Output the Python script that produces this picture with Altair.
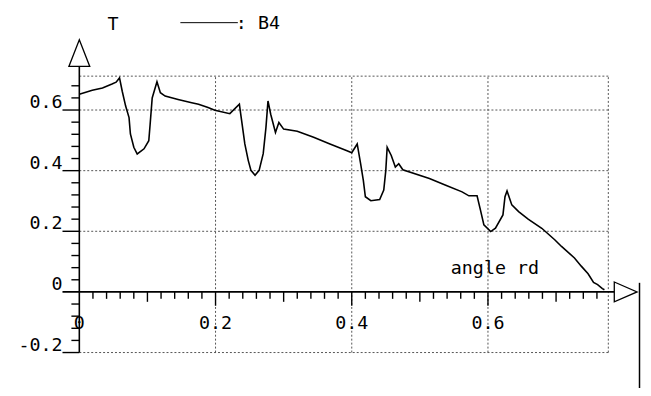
import altair as alt
import pandas as pd

# ---- data ----
angle = [0.000, 0.019, 0.034, 0.048, 0.054, 0.059, 0.063, 0.068, 0.073, 0.075,
         0.080, 0.085, 0.095, 0.102, 0.104, 0.107, 0.114, 0.119, 0.126, 0.145,
         0.165, 0.175, 0.189, 0.199, 0.221, 0.235, 0.238, 0.243, 0.248, 0.252,
         0.258, 0.264, 0.270, 0.274, 0.277, 0.281, 0.288, 0.293, 0.300, 0.320,
         0.344, 0.368, 0.393, 0.400, 0.408, 0.413, 0.417, 0.420, 0.428, 0.441,
         0.447, 0.450, 0.452, 0.458, 0.464, 0.469, 0.475, 0.514, 0.538, 0.562,
         0.572, 0.584, 0.589, 0.594, 0.604, 0.611, 0.622, 0.625, 0.628, 0.635,
         0.645, 0.659, 0.679, 0.698, 0.708, 0.727, 0.737, 0.747, 0.755, 0.761,
         0.768, 0.771]
t_b4 = [0.652, 0.665, 0.673, 0.686, 0.692, 0.706, 0.662, 0.613, 0.575, 0.521,
        0.477, 0.455, 0.472, 0.499, 0.554, 0.640, 0.693, 0.657, 0.646, 0.635,
        0.624, 0.619, 0.608, 0.599, 0.588, 0.619, 0.570, 0.488, 0.434, 0.401,
        0.385, 0.401, 0.456, 0.542, 0.630, 0.586, 0.526, 0.559, 0.537, 0.530,
        0.510, 0.488, 0.466, 0.459, 0.488, 0.423, 0.368, 0.314, 0.301, 0.305,
        0.336, 0.401, 0.477, 0.450, 0.412, 0.423, 0.403, 0.374, 0.352, 0.330,
        0.317, 0.317, 0.270, 0.221, 0.199, 0.210, 0.254, 0.314, 0.333, 0.287,
        0.265, 0.240, 0.210, 0.172, 0.150, 0.112, 0.085, 0.060, 0.031, 0.024,
        0.011, 0.007]

x_label_vals = [0.0, 0.2, 0.4, 0.6]
x_label_text = ["0", "0.2", "0.4", "0.6"]
y_label_vals = [-0.2, 0.0, 0.2, 0.4, 0.6]
y_label_text = ["-0.2", "0", "0.2", "0.4", "0.6"]
x_grid = [0.2, 0.4, 0.6]
y_grid = [0.2, 0.4, 0.6]
x_major = [0.2, 0.4, 0.6]
x_mid = [0.1, 0.3, 0.5, 0.7]
x_minor = [round(0.02 * i, 2) for i in range(1, 39) if i % 5 != 0]
y_major = [-0.2, 0.2, 0.4, 0.6]
y_minor = [round(0.04 * i, 2) for i in range(-4, 18) if i % 5 != 0]

# ---- geometry / style ----
W, H = 534, 279
PX_X, PX_Y = 687.5, 306.0
XMAX = W / PX_X
YMIN = -0.2
YMAX = YMIN + H / PX_Y
FONT = "DejaVu Sans Mono"
FS = 18.5

xs = alt.Scale(domain=[0, XMAX], nice=False, zero=False)
ys = alt.Scale(domain=[YMIN, YMAX], nice=False, zero=False)


def XF(f):
    return alt.X(f, type="quantitative", scale=xs, axis=None)


def YF(f):
    return alt.Y(f, type="quantitative", scale=ys, axis=None)


def XD(v):
    return alt.XDatum(v, type="quantitative", scale=xs, axis=None)


def YD(v):
    return alt.YDatum(v, type="quantitative", scale=ys, axis=None)


curve_df = pd.DataFrame({"angle": angle, "T": t_b4, "i": list(range(len(angle)))})

layers = []

# dotted grid + frame
grid_style = dict(color="#555555", strokeWidth=1, strokeDash=[2, 2])
layers.append(alt.Chart(pd.DataFrame({"v": y_grid + [YMAX, YMIN]})).mark_rule(**grid_style)
              .encode(y=YF("v"), x=XD(0), x2=alt.X2Datum(XMAX)))
layers.append(alt.Chart(pd.DataFrame({"v": x_grid + [XMAX]})).mark_rule(**grid_style)
              .encode(x=XF("v"), y=YD(YMIN), y2=alt.Y2Datum(YMAX)))

# axis lines
ax_style = dict(color="black", strokeWidth=1.6)
layers.append(alt.Chart(pd.DataFrame({"a": [0]})).mark_rule(**ax_style)
              .encode(x=XD(0), y=YD(YMIN), y2=alt.Y2Datum(0.744)))
layers.append(alt.Chart(pd.DataFrame({"a": [0]})).mark_rule(**ax_style)
              .encode(y=YD(0), x=XD(-17 / PX_X), x2=alt.X2Datum(0.786)))

# x ticks (hanging below the axis)
for vals, ln in [(x_minor, 7), (x_mid, 10), (x_major, 14)]:
    layers.append(alt.Chart(pd.DataFrame({"v": vals})).mark_rule(color="black", strokeWidth=1.4)
                  .encode(x=XF("v"), y=YD(0), y2=alt.Y2Datum(-ln / PX_Y)))
# y ticks (left of axis)
for vals, ln in [(y_minor, 8), (y_major, 17)]:
    layers.append(alt.Chart(pd.DataFrame({"v": vals})).mark_rule(color="black", strokeWidth=1.4)
                  .encode(y=YF("v"), x=XD(0), x2=alt.X2Datum(-ln / PX_X)))

# tick labels
layers.append(alt.Chart(pd.DataFrame({"v": y_label_vals, "t": y_label_text}))
              .mark_text(align="right", baseline="alphabetic", dx=-17, dy=-2,
                         font=FONT, fontSize=FS, color="black")
              .encode(x=XD(0), y=YF("v"), text="t:N"))
layers.append(alt.Chart(pd.DataFrame({"v": x_label_vals, "t": x_label_text}))
              .mark_text(align="center", baseline="alphabetic", dy=37,
                         font=FONT, fontSize=FS, color="black")
              .encode(x=XF("v"), y=YD(0), text="t:N"))

# arrows
tri_up = "M0,-1L0.78,1L-0.78,1Z"
tri_right = "M-1,-0.87L1,0L-1,0.87Z"
layers.append(alt.Chart(pd.DataFrame({"a": [0]}))
              .mark_point(shape=tri_up, size=729, filled=True, fill="white",
                          stroke="black", strokeWidth=1.3, opacity=1)
              .encode(x=XD(0), y=YD(0.788)))
layers.append(alt.Chart(pd.DataFrame({"a": [0]}))
              .mark_point(shape=tri_right, size=529, filled=True, fill="white",
                          stroke="black", strokeWidth=1.3, opacity=1)
              .encode(x=XD(0.8022), y=YD(0)))

# scanner edge line at right
layers.append(alt.Chart(pd.DataFrame({"a": [0]})).mark_rule(color="black", strokeWidth=1.5)
              .encode(x=XD(0.8225), y=YD(0.03), y2=alt.Y2Datum(-0.34)))

# the curve
layers.append(alt.Chart(curve_df).mark_line(color="black", strokeWidth=1.6)
              .encode(x=XF("angle"), y=YF("T"), order="i:Q"))

# header texts and legend
txt = dict(font=FONT, fontSize=FS, color="black", baseline="alphabetic")
layers.append(alt.Chart(pd.DataFrame({"t": ["T"]})).mark_text(align="center", **txt)
              .encode(x=alt.value(34), y=alt.value(-47), text="t:N"))
layers.append(alt.Chart(pd.DataFrame({"a": [0]})).mark_rule(color="black", strokeWidth=1)
              .encode(x=alt.value(102), x2=alt.value(160), y=alt.value(-54)))
layers.append(alt.Chart(pd.DataFrame({"t": [": B4"]})).mark_text(align="left", **txt)
              .encode(x=alt.value(158), y=alt.value(-48), text="t:N"))
layers.append(alt.Chart(pd.DataFrame({"t": ["angle rd"]})).mark_text(align="left", **txt)
              .encode(x=alt.value(375), y=alt.value(199.5), text="t:N"))

chart = alt.layer(*layers).properties(
    width=W, height=H,
    autosize=alt.AutoSizeParams(type="none"),
    padding={"left": 72, "top": 67, "right": 35, "bottom": 34},
    background="white",
).configure_view(stroke=None)

chart.save("out.html", embed_options={"renderer": "svg", "actions": False})
